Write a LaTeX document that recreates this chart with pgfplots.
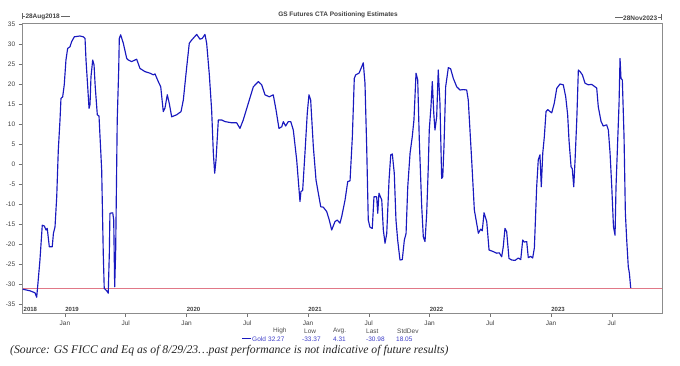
\documentclass[border=0pt]{standalone}
\usepackage{pgfplots}
\pgfplotsset{compat=1.18}
\usepackage{fontspec}
\setmainfont{Liberation Sans}
\newfontfamily\srcfont{Liberation Serif}
\definecolor{gline}{RGB}{25,25,190}
\definecolor{gval}{RGB}{60,60,200}
\definecolor{lastline}{RGB}{225,120,135}
\begin{document}
\begin{tikzpicture}
\useasboundingbox (-22.7pt,-53pt) rectangle (657.3pt,313pt);
\begin{axis}[at={(0,0)}, anchor=south west, scale only axis,
  width=639pt, height=290pt,
  xmin=2018.652, xmax=2023.911, ymin=-37.25, ymax=35.25,
  axis line style={draw=black!45},
  ytick={-35,-30,...,35},
  yticklabels={-35,-30,-25,-20,-15,-10,-5,0,5,10,15,20,25,30,35},
  xtick={2019,2019.5,2020,2020.5,2021,2021.5,2022,2022.5,2023,2023.5},
  xticklabels={Jan,Jul,Jan,Jul,Jan,Jul,Jan,Jul,Jan,Jul},
  tick align=outside, major tick length=4pt,
  tick style={draw=black!55, line width=0.5pt},
  ticklabel style={font=\fontsize{6.5}{7}\selectfont, text=black!75},
  xtick pos=bottom, ytick pos=left,
  clip=false]
\addplot[lastline, line width=0.6pt] coordinates {(2018.652,-30.98) (2023.911,-30.98)};
\addplot[gline, line width=1.15pt, line join=round] coordinates {
(2018.652,-31.3) (2018.712,-31.7) (2018.753,-32.2) (2018.767,-33.3) (2018.775,-30.7)
(2018.794,-24.0) (2018.813,-15.3) (2018.830,-15.5) (2018.844,-16.5) (2018.854,-16.1)
(2018.871,-20.7) (2018.895,-20.7) (2018.905,-17.3) (2018.918,-15.7) (2018.932,-8.2)
(2018.945,3.5) (2018.959,11.0) (2018.967,16.4) (2018.981,16.8) (2018.994,19.8)
(2019.008,26.0) (2019.022,28.9) (2019.041,29.3) (2019.055,30.6) (2019.077,31.8)
(2019.123,32.0) (2019.151,31.8) (2019.165,31.4) (2019.173,26.0) (2019.187,19.3)
(2019.198,13.9) (2019.206,14.9) (2019.214,21.8) (2019.228,26.0) (2019.239,24.8)
(2019.249,19.3) (2019.266,12.3) (2019.280,12.0) (2019.302,-1.5) (2019.315,-22.3)
(2019.323,-31.1) (2019.343,-31.7) (2019.356,-32.3) (2019.365,-22.3) (2019.370,-12.3)
(2019.393,-12.2) (2019.401,-14.0) (2019.409,-30.7) (2019.417,-22.0) (2019.430,11.0)
(2019.442,23.5) (2019.447,31.4) (2019.458,32.3) (2019.480,30.2) (2019.508,26.4)
(2019.521,26.0) (2019.549,25.6) (2019.590,26.2) (2019.617,23.9) (2019.658,23.1)
(2019.700,22.7) (2019.727,22.3) (2019.741,22.5) (2019.768,20.6) (2019.788,19.3)
(2019.809,13.1) (2019.823,14.0) (2019.842,17.3) (2019.858,15.2) (2019.878,11.8)
(2019.919,12.3) (2019.955,13.1) (2019.974,16.0) (2020.002,24.3) (2020.023,30.2)
(2020.043,31.0) (2020.084,32.4) (2020.111,31.2) (2020.130,31.4) (2020.152,32.4)
(2020.166,30.2) (2020.188,22.3) (2020.207,13.5) (2020.221,2.7) (2020.232,-2.3)
(2020.243,1.0) (2020.262,11.0) (2020.290,11.0) (2020.317,10.6) (2020.372,10.3)
(2020.413,10.3) (2020.440,8.9) (2020.467,11.0) (2020.509,15.2) (2020.550,19.3)
(2020.591,20.6) (2020.619,19.8) (2020.646,17.3) (2020.681,16.8) (2020.714,17.3)
(2020.737,13.5) (2020.761,8.9) (2020.784,9.3) (2020.797,10.6) (2020.816,9.5)
(2020.838,10.6) (2020.858,10.6) (2020.879,8.5) (2020.907,1.0) (2020.934,-9.4)
(2020.942,-6.9) (2020.956,-6.6) (2020.975,2.7) (2020.994,12.7) (2021.008,17.3)
(2021.022,16.0) (2021.044,4.3) (2021.066,-4.0) (2021.085,-7.3) (2021.105,-10.7)
(2021.126,-10.8) (2021.154,-11.9) (2021.175,-14.0) (2021.195,-16.5) (2021.222,-14.4)
(2021.241,-14.0) (2021.263,-14.8) (2021.277,-13.2) (2021.305,-9.0) (2021.327,-4.4)
(2021.346,-4.2) (2021.365,6.8) (2021.381,21.4) (2021.393,22.3) (2021.420,22.7)
(2021.442,24.3) (2021.455,25.3) (2021.469,20.2) (2021.483,4.3) (2021.496,-14.0)
(2021.510,-15.8) (2021.529,-16.1) (2021.543,-8.2) (2021.565,-8.2) (2021.574,-12.3)
(2021.584,-7.3) (2021.607,-9.0) (2021.620,-16.5) (2021.634,-19.8) (2021.648,-17.4)
(2021.667,-4.0) (2021.681,2.3) (2021.694,2.5) (2021.710,-2.3) (2021.724,-14.0)
(2021.738,-19.0) (2021.757,-24.0) (2021.776,-23.9) (2021.793,-19.0) (2021.807,-17.4)
(2021.821,-5.7) (2021.840,2.7) (2021.858,6.8) (2021.872,11.0) (2021.889,22.7)
(2021.903,21.0) (2021.916,6.0) (2021.936,-10.7) (2021.949,-18.2) (2021.963,-19.4)
(2021.977,-12.3) (2021.990,-0.7) (2021.998,8.5) (2022.012,14.3) (2022.023,20.6)
(2022.035,12.7) (2022.045,8.5) (2022.059,11.8) (2022.072,23.5) (2022.086,15.2)
(2022.100,-3.6) (2022.109,-3.2) (2022.119,4.3) (2022.133,19.3) (2022.155,24.1)
(2022.174,23.8) (2022.196,21.4) (2022.224,19.3) (2022.251,18.5) (2022.278,18.6)
(2022.306,18.5) (2022.319,16.0) (2022.347,1.0) (2022.369,-11.5) (2022.388,-14.8)
(2022.402,-17.3) (2022.421,-16.3) (2022.434,-16.7) (2022.449,-12.2) (2022.471,-14.4)
(2022.490,-21.5) (2022.525,-21.9) (2022.553,-22.3) (2022.574,-22.2) (2022.594,-23.2)
(2022.607,-20.7) (2022.621,-16.1) (2022.635,-16.9) (2022.654,-23.6) (2022.676,-24.0)
(2022.704,-24.1) (2022.731,-23.5) (2022.751,-23.9) (2022.767,-19.0) (2022.780,-19.5)
(2022.800,-19.4) (2022.813,-23.4) (2022.833,-23.1) (2022.849,-23.5) (2022.863,-21.0)
(2022.882,-5.7) (2022.895,1.0) (2022.909,2.3) (2022.920,-5.7) (2022.932,2.7)
(2022.945,6.8) (2022.959,13.1) (2022.973,13.6) (2022.992,13.1) (2023.006,12.8)
(2023.027,15.2) (2023.047,18.9) (2023.074,20.0) (2023.101,19.8) (2023.121,16.8)
(2023.137,12.3) (2023.148,6.0) (2023.165,-0.7) (2023.175,-1.2) (2023.187,-5.7)
(2023.198,1.0) (2023.212,11.0) (2023.225,23.5) (2023.239,23.1) (2023.258,22.3)
(2023.280,20.2) (2023.307,19.8) (2023.335,19.9) (2023.362,19.3) (2023.376,19.0)
(2023.389,14.3) (2023.412,10.6) (2023.430,9.5) (2023.458,9.8) (2023.472,8.5)
(2023.486,2.7) (2023.500,-5.7) (2023.514,-15.7) (2023.527,-17.8) (2023.535,-5.7)
(2023.549,6.0) (2023.560,15.2) (2023.568,26.4) (2023.576,21.4) (2023.587,21.0)
(2023.601,6.8) (2023.612,-12.3) (2023.623,-19.0) (2023.636,-25.7) (2023.645,-27.3)
(2023.656,-30.98)};
\end{axis}
% year labels inside the plot, above the bottom frame
\begin{scope}[every node/.style={font=\bfseries\fontsize{6}{7}\selectfont, text=black!75, anchor=west, inner sep=0pt}]
\node at (0.8pt,4pt) {2018};
\node at (42.5pt,4pt) {2019};
\node at (164pt,4pt) {2020};
\node at (285.5pt,4pt) {2021};
\node at (407pt,4pt) {2022};
\node at (528.5pt,4pt) {2023};
\end{scope}
% title and date range
\node[font=\bfseries\fontsize{6.5}{7}\selectfont, text=black!75] at (315.3pt,298pt) {GS Futures CTA Positioning Estimates};
\draw[black!60, line width=0.5pt] (0,294pt) -- (0,300pt) (0,297pt) -- (2.3pt,297pt) (38.5pt,297pt) -- (47pt,297pt);
\node[font=\bfseries\fontsize{6.5}{7}\selectfont, text=black!75, anchor=west, inner sep=0pt] at (2.6pt,296pt) {28Aug2018};
\draw[black!60, line width=0.5pt] (639pt,293pt) -- (639pt,299pt) (639pt,296pt) -- (635pt,296pt) (600pt,296pt) -- (592pt,296pt);
\node[font=\bfseries\fontsize{6.5}{7}\selectfont, text=black!75, anchor=east, inner sep=0pt] at (634.7pt,295pt) {28Nov2023};
% statistics legend
\begin{scope}[every node/.style={font=\fontsize{6.5}{7}\selectfont, anchor=west, inner sep=0pt}]
\node[text=black!70] at (250.3pt,-18pt) {High};
\node[text=black!70] at (281.3pt,-18pt) {Low};
\node[text=black!70] at (310.3pt,-18pt) {Avg.};
\node[text=black!70] at (343.3pt,-18pt) {Last};
\node[text=black!70] at (374.3pt,-18pt) {StdDev};
\node[text=gval] at (229.3pt,-26pt) {Gold};
\node[text=gval] at (245.3pt,-26pt) {32.27};
\node[text=gval] at (279.3pt,-26pt) {-33.37};
\node[text=gval] at (310.3pt,-26pt) {4.31};
\node[text=gval] at (343.3pt,-26pt) {-30.98};
\node[text=gval] at (373.3pt,-26pt) {18.05};
\end{scope}
\draw[gline, line width=1pt] (219.3pt,-26pt) -- (228.3pt,-26pt);
% source note
\node[font=\srcfont\itshape\fontsize{11.7}{13}\selectfont, text=black!85, anchor=west, inner sep=0pt] at (-12.7pt,-38pt) {(Source: GS FICC and Eq as of 8/29/23\dots past performance is not indicative of future results)};
\end{tikzpicture}
\end{document}
